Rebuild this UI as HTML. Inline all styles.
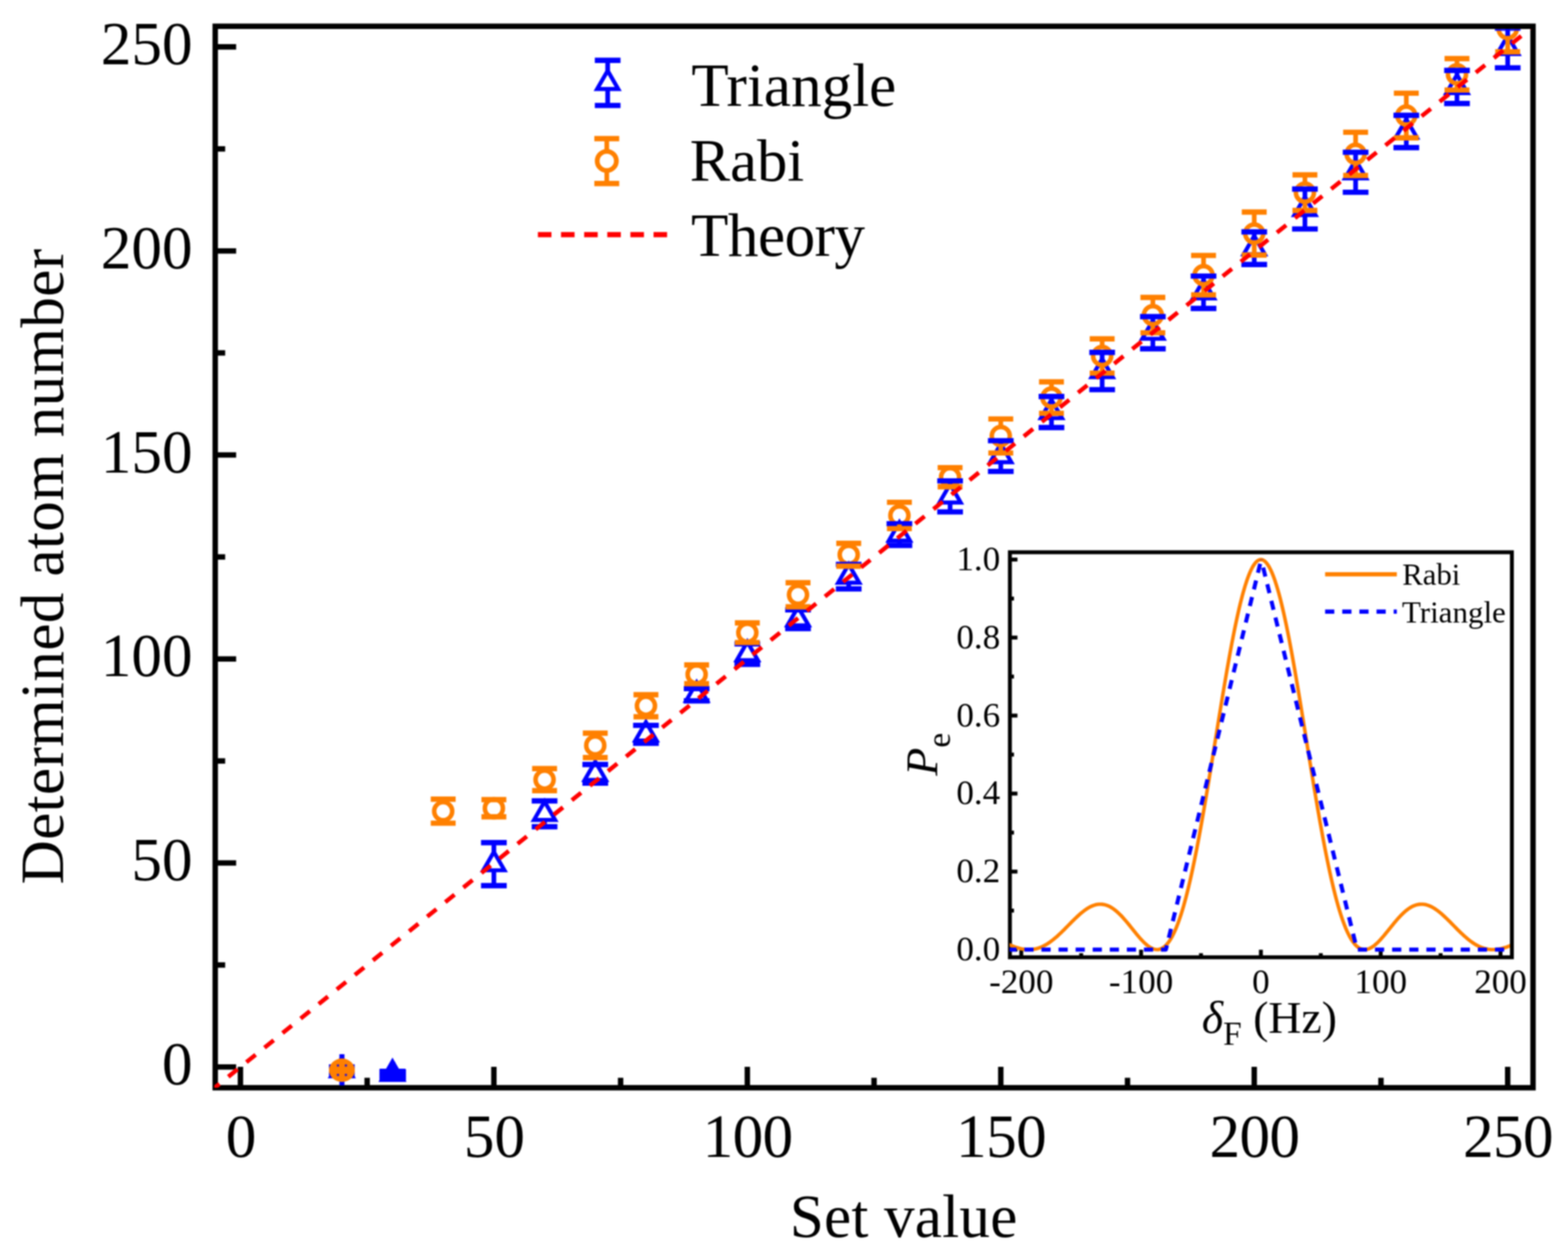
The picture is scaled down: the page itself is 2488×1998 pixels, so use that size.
<!DOCTYPE html>
<html lang="en"><head><meta charset="utf-8"><title>Determined atom number vs set value</title>
<style>html,body{margin:0;padding:0;background:#fff;}body{width:2488px;height:1998px;overflow:hidden;}svg{display:block;filter:blur(1.0px);}text{font-family:'Liberation Serif', 'DejaVu Serif', serif;fill:#000;}</style></head><body>
<svg width="2488" height="1998" viewBox="0 0 2488 1998">
<rect x="0" y="0" width="2488" height="1998" fill="#ffffff"/>
<defs><clipPath id="mainclip"><rect x="340" y="46.2" width="2089.5" height="1680"/></clipPath>
<clipPath id="insclip"><rect x="1601.94" y="879.42" width="794.02" height="639.77"/></clipPath></defs>
<g id="axes" stroke="#000" stroke-width="8.6" fill="none">
<rect x="341.5" y="41.7" width="2091" height="1684.5"/>
<line x1="341.5" y1="1693.3" x2="374.7" y2="1693.3"/>
<line x1="381.5" y1="1726.2" x2="381.5" y2="1693"/>
<line x1="341.5" y1="1531.41" x2="357.3" y2="1531.41"/>
<line x1="582.58" y1="1726.2" x2="582.58" y2="1710.4"/>
<line x1="341.5" y1="1369.52" x2="374.7" y2="1369.52"/>
<line x1="783.66" y1="1726.2" x2="783.66" y2="1693"/>
<line x1="341.5" y1="1207.63" x2="357.3" y2="1207.63"/>
<line x1="984.74" y1="1726.2" x2="984.74" y2="1710.4"/>
<line x1="341.5" y1="1045.74" x2="374.7" y2="1045.74"/>
<line x1="1185.82" y1="1726.2" x2="1185.82" y2="1693"/>
<line x1="341.5" y1="883.85" x2="357.3" y2="883.85"/>
<line x1="1386.9" y1="1726.2" x2="1386.9" y2="1710.4"/>
<line x1="341.5" y1="721.96" x2="374.7" y2="721.96"/>
<line x1="1587.98" y1="1726.2" x2="1587.98" y2="1693"/>
<line x1="341.5" y1="560.07" x2="357.3" y2="560.07"/>
<line x1="1789.06" y1="1726.2" x2="1789.06" y2="1710.4"/>
<line x1="341.5" y1="398.18" x2="374.7" y2="398.18"/>
<line x1="1990.14" y1="1726.2" x2="1990.14" y2="1693"/>
<line x1="341.5" y1="236.29" x2="357.3" y2="236.29"/>
<line x1="2191.22" y1="1726.2" x2="2191.22" y2="1710.4"/>
<line x1="341.5" y1="74.4" x2="374.7" y2="74.4"/>
<line x1="2392.3" y1="1726.2" x2="2392.3" y2="1693"/>
</g>
<g clip-path="url(#mainclip)">
<g id="tri-markers"><polygon points="542.36,1679.01 559.16,1708.11 525.56,1708.11" fill="none" stroke="#0000ff" stroke-width="6.4" stroke-linejoin="miter"/><polygon points="622.8,1684.77 639.6,1713.87 606,1713.87" fill="none" stroke="#0000ff" stroke-width="6.4" stroke-linejoin="miter"/><polygon points="783.66,1352 800.46,1381.1 766.86,1381.1" fill="none" stroke="#0000ff" stroke-width="6.4" stroke-linejoin="miter"/><polygon points="864.09,1272.12 880.89,1301.22 847.29,1301.22" fill="none" stroke="#0000ff" stroke-width="6.4" stroke-linejoin="miter"/><polygon points="944.52,1208.64 961.32,1237.74 927.72,1237.74" fill="none" stroke="#0000ff" stroke-width="6.4" stroke-linejoin="miter"/><polygon points="1024.96,1146 1041.76,1175.1 1008.16,1175.1" fill="none" stroke="#0000ff" stroke-width="6.4" stroke-linejoin="miter"/><polygon points="1105.39,1083.16 1122.19,1112.26 1088.59,1112.26" fill="none" stroke="#0000ff" stroke-width="6.4" stroke-linejoin="miter"/><polygon points="1185.82,1018.7 1202.62,1047.8 1169.02,1047.8" fill="none" stroke="#0000ff" stroke-width="6.4" stroke-linejoin="miter"/><polygon points="1266.25,963.32 1283.05,992.42 1249.45,992.42" fill="none" stroke="#0000ff" stroke-width="6.4" stroke-linejoin="miter"/><polygon points="1346.68,895.62 1363.48,924.72 1329.88,924.72" fill="none" stroke="#0000ff" stroke-width="6.4" stroke-linejoin="miter"/><polygon points="1427.12,828.9 1443.92,858 1410.32,858" fill="none" stroke="#0000ff" stroke-width="6.4" stroke-linejoin="miter"/><polygon points="1507.55,768.33 1524.35,797.43 1490.75,797.43" fill="none" stroke="#0000ff" stroke-width="6.4" stroke-linejoin="miter"/><polygon points="1587.98,704.33 1604.78,733.43 1571.18,733.43" fill="none" stroke="#0000ff" stroke-width="6.4" stroke-linejoin="miter"/><polygon points="1668.41,634.49 1685.21,663.59 1651.61,663.59" fill="none" stroke="#0000ff" stroke-width="6.4" stroke-linejoin="miter"/><polygon points="1748.84,569.45 1765.64,598.55 1732.04,598.55" fill="none" stroke="#0000ff" stroke-width="6.4" stroke-linejoin="miter"/><polygon points="1829.28,508.56 1846.08,537.66 1812.48,537.66" fill="none" stroke="#0000ff" stroke-width="6.4" stroke-linejoin="miter"/><polygon points="1909.71,444.43 1926.51,473.53 1892.91,473.53" fill="none" stroke="#0000ff" stroke-width="6.4" stroke-linejoin="miter"/><polygon points="1990.14,374.47 2006.94,403.57 1973.34,403.57" fill="none" stroke="#0000ff" stroke-width="6.4" stroke-linejoin="miter"/><polygon points="2070.57,312.28 2087.37,341.38 2053.77,341.38" fill="none" stroke="#0000ff" stroke-width="6.4" stroke-linejoin="miter"/><polygon points="2151,253.97 2167.8,283.07 2134.2,283.07" fill="none" stroke="#0000ff" stroke-width="6.4" stroke-linejoin="miter"/><polygon points="2231.44,189.19 2248.24,218.29 2214.64,218.29" fill="none" stroke="#0000ff" stroke-width="6.4" stroke-linejoin="miter"/><polygon points="2311.87,118.58 2328.67,147.68 2295.07,147.68" fill="none" stroke="#0000ff" stroke-width="6.4" stroke-linejoin="miter"/><polygon points="2392.3,56.72 2409.1,85.82 2375.5,85.82" fill="none" stroke="#0000ff" stroke-width="6.4" stroke-linejoin="miter"/></g>
<g id="rabi-markers"><circle cx="542.36" cy="1698.53" r="14.3" fill="none" stroke="#ff8000" stroke-width="7.2"/><circle cx="703.23" cy="1287.31" r="14.3" fill="none" stroke="#ff8000" stroke-width="7.2"/><circle cx="783.66" cy="1282.65" r="14.3" fill="none" stroke="#ff8000" stroke-width="7.2"/><circle cx="864.09" cy="1237.3" r="14.3" fill="none" stroke="#ff8000" stroke-width="7.2"/><circle cx="944.52" cy="1182.89" r="14.3" fill="none" stroke="#ff8000" stroke-width="7.2"/><circle cx="1024.96" cy="1120.05" r="14.3" fill="none" stroke="#ff8000" stroke-width="7.2"/><circle cx="1105.39" cy="1070.17" r="14.3" fill="none" stroke="#ff8000" stroke-width="7.2"/><circle cx="1185.82" cy="1004.09" r="14.3" fill="none" stroke="#ff8000" stroke-width="7.2"/><circle cx="1266.25" cy="943.85" r="14.3" fill="none" stroke="#ff8000" stroke-width="7.2"/><circle cx="1346.68" cy="880.36" r="14.3" fill="none" stroke="#ff8000" stroke-width="7.2"/><circle cx="1427.12" cy="817.98" r="14.3" fill="none" stroke="#ff8000" stroke-width="7.2"/><circle cx="1507.55" cy="757.28" r="14.3" fill="none" stroke="#ff8000" stroke-width="7.2"/><circle cx="1587.98" cy="691.85" r="14.3" fill="none" stroke="#ff8000" stroke-width="7.2"/><circle cx="1668.41" cy="630.96" r="14.3" fill="none" stroke="#ff8000" stroke-width="7.2"/><circle cx="1748.84" cy="564.88" r="14.3" fill="none" stroke="#ff8000" stroke-width="7.2"/><circle cx="1829.28" cy="500.1" r="14.3" fill="none" stroke="#ff8000" stroke-width="7.2"/><circle cx="1909.71" cy="436.68" r="14.3" fill="none" stroke="#ff8000" stroke-width="7.2"/><circle cx="1990.14" cy="370.61" r="14.3" fill="none" stroke="#ff8000" stroke-width="7.2"/><circle cx="2070.57" cy="305.76" r="14.3" fill="none" stroke="#ff8000" stroke-width="7.2"/><circle cx="2151" cy="244.22" r="14.3" fill="none" stroke="#ff8000" stroke-width="7.2"/><circle cx="2231.44" cy="183.33" r="14.3" fill="none" stroke="#ff8000" stroke-width="7.2"/><circle cx="2311.87" cy="117.9" r="14.3" fill="none" stroke="#ff8000" stroke-width="7.2"/><circle cx="2392.3" cy="46" r="14.3" fill="none" stroke="#ff8000" stroke-width="7.2"/></g>
<g id="tri-err"><line x1="521.96" y1="1693.22" x2="562.76" y2="1693.22" stroke="#0000ff" stroke-width="8.4"/><line x1="521.96" y1="1703.59" x2="562.76" y2="1703.59" stroke="#0000ff" stroke-width="8.4"/><line x1="602.4" y1="1700.28" x2="643.2" y2="1700.28" stroke="#0000ff" stroke-width="8.4"/><line x1="602.4" y1="1708.06" x2="643.2" y2="1708.06" stroke="#0000ff" stroke-width="8.4"/><line x1="763.26" y1="1337.32" x2="804.06" y2="1337.32" stroke="#0000ff" stroke-width="8.4"/><line x1="763.26" y1="1405.47" x2="804.06" y2="1405.47" stroke="#0000ff" stroke-width="8.4"/><line x1="783.66" y1="1337.32" x2="783.66" y2="1352" stroke="#0000ff" stroke-width="7.4"/><line x1="783.66" y1="1381.1" x2="783.66" y2="1405.47" stroke="#0000ff" stroke-width="7.4"/><line x1="843.69" y1="1271.05" x2="884.49" y2="1271.05" stroke="#0000ff" stroke-width="8.4"/><line x1="843.69" y1="1311.99" x2="884.49" y2="1311.99" stroke="#0000ff" stroke-width="8.4"/><line x1="864.09" y1="1271.05" x2="864.09" y2="1272.12" stroke="#0000ff" stroke-width="7.4"/><line x1="864.09" y1="1301.22" x2="864.09" y2="1311.99" stroke="#0000ff" stroke-width="7.4"/><line x1="924.12" y1="1213.2" x2="964.92" y2="1213.2" stroke="#0000ff" stroke-width="8.4"/><line x1="924.12" y1="1242.87" x2="964.92" y2="1242.87" stroke="#0000ff" stroke-width="8.4"/><line x1="944.52" y1="1237.74" x2="944.52" y2="1242.87" stroke="#0000ff" stroke-width="7.4"/><line x1="1004.56" y1="1151.14" x2="1045.36" y2="1151.14" stroke="#0000ff" stroke-width="8.4"/><line x1="1004.56" y1="1179.65" x2="1045.36" y2="1179.65" stroke="#0000ff" stroke-width="8.4"/><line x1="1024.96" y1="1175.1" x2="1024.96" y2="1179.65" stroke="#0000ff" stroke-width="7.4"/><line x1="1084.99" y1="1092.84" x2="1125.79" y2="1092.84" stroke="#0000ff" stroke-width="8.4"/><line x1="1084.99" y1="1112.28" x2="1125.79" y2="1112.28" stroke="#0000ff" stroke-width="8.4"/><line x1="1105.39" y1="1112.26" x2="1105.39" y2="1112.28" stroke="#0000ff" stroke-width="7.4"/><line x1="1165.42" y1="1021.91" x2="1206.22" y2="1021.91" stroke="#0000ff" stroke-width="8.4"/><line x1="1165.42" y1="1054.3" x2="1206.22" y2="1054.3" stroke="#0000ff" stroke-width="8.4"/><line x1="1185.82" y1="1047.8" x2="1185.82" y2="1054.3" stroke="#0000ff" stroke-width="7.4"/><line x1="1245.85" y1="967.82" x2="1286.65" y2="967.82" stroke="#0000ff" stroke-width="8.4"/><line x1="1245.85" y1="997.62" x2="1286.65" y2="997.62" stroke="#0000ff" stroke-width="8.4"/><line x1="1266.25" y1="992.42" x2="1266.25" y2="997.62" stroke="#0000ff" stroke-width="7.4"/><line x1="1326.28" y1="895.59" x2="1367.08" y2="895.59" stroke="#0000ff" stroke-width="8.4"/><line x1="1326.28" y1="934.45" x2="1367.08" y2="934.45" stroke="#0000ff" stroke-width="8.4"/><line x1="1346.68" y1="895.59" x2="1346.68" y2="895.62" stroke="#0000ff" stroke-width="7.4"/><line x1="1346.68" y1="924.72" x2="1346.68" y2="934.45" stroke="#0000ff" stroke-width="7.4"/><line x1="1406.72" y1="831.13" x2="1447.52" y2="831.13" stroke="#0000ff" stroke-width="8.4"/><line x1="1406.72" y1="865.46" x2="1447.52" y2="865.46" stroke="#0000ff" stroke-width="8.4"/><line x1="1427.12" y1="858" x2="1427.12" y2="865.46" stroke="#0000ff" stroke-width="7.4"/><line x1="1487.15" y1="763.11" x2="1527.95" y2="763.11" stroke="#0000ff" stroke-width="8.4"/><line x1="1487.15" y1="812.34" x2="1527.95" y2="812.34" stroke="#0000ff" stroke-width="8.4"/><line x1="1507.55" y1="763.11" x2="1507.55" y2="768.33" stroke="#0000ff" stroke-width="7.4"/><line x1="1507.55" y1="797.43" x2="1507.55" y2="812.34" stroke="#0000ff" stroke-width="7.4"/><line x1="1567.58" y1="699.37" x2="1608.38" y2="699.37" stroke="#0000ff" stroke-width="8.4"/><line x1="1567.58" y1="748.08" x2="1608.38" y2="748.08" stroke="#0000ff" stroke-width="8.4"/><line x1="1587.98" y1="699.37" x2="1587.98" y2="704.33" stroke="#0000ff" stroke-width="7.4"/><line x1="1587.98" y1="733.43" x2="1587.98" y2="748.08" stroke="#0000ff" stroke-width="7.4"/><line x1="1648.01" y1="629.21" x2="1688.81" y2="629.21" stroke="#0000ff" stroke-width="8.4"/><line x1="1648.01" y1="678.57" x2="1688.81" y2="678.57" stroke="#0000ff" stroke-width="8.4"/><line x1="1668.41" y1="629.21" x2="1668.41" y2="634.49" stroke="#0000ff" stroke-width="7.4"/><line x1="1668.41" y1="663.59" x2="1668.41" y2="678.57" stroke="#0000ff" stroke-width="7.4"/><line x1="1728.44" y1="559.31" x2="1769.24" y2="559.31" stroke="#0000ff" stroke-width="8.4"/><line x1="1728.44" y1="618.39" x2="1769.24" y2="618.39" stroke="#0000ff" stroke-width="8.4"/><line x1="1748.84" y1="559.31" x2="1748.84" y2="569.45" stroke="#0000ff" stroke-width="7.4"/><line x1="1748.84" y1="598.55" x2="1748.84" y2="618.39" stroke="#0000ff" stroke-width="7.4"/><line x1="1808.88" y1="502.44" x2="1849.68" y2="502.44" stroke="#0000ff" stroke-width="8.4"/><line x1="1808.88" y1="553.48" x2="1849.68" y2="553.48" stroke="#0000ff" stroke-width="8.4"/><line x1="1829.28" y1="502.44" x2="1829.28" y2="508.56" stroke="#0000ff" stroke-width="7.4"/><line x1="1829.28" y1="537.66" x2="1829.28" y2="553.48" stroke="#0000ff" stroke-width="7.4"/><line x1="1889.31" y1="438.11" x2="1930.11" y2="438.11" stroke="#0000ff" stroke-width="8.4"/><line x1="1889.31" y1="489.55" x2="1930.11" y2="489.55" stroke="#0000ff" stroke-width="8.4"/><line x1="1909.71" y1="438.11" x2="1909.71" y2="444.43" stroke="#0000ff" stroke-width="7.4"/><line x1="1909.71" y1="473.53" x2="1909.71" y2="489.55" stroke="#0000ff" stroke-width="7.4"/><line x1="1969.74" y1="367.95" x2="2010.54" y2="367.95" stroke="#0000ff" stroke-width="8.4"/><line x1="1969.74" y1="419.78" x2="2010.54" y2="419.78" stroke="#0000ff" stroke-width="8.4"/><line x1="1990.14" y1="367.95" x2="1990.14" y2="374.47" stroke="#0000ff" stroke-width="7.4"/><line x1="1990.14" y1="403.57" x2="1990.14" y2="419.78" stroke="#0000ff" stroke-width="7.4"/><line x1="2050.17" y1="299.93" x2="2090.97" y2="299.93" stroke="#0000ff" stroke-width="8.4"/><line x1="2050.17" y1="363.42" x2="2090.97" y2="363.42" stroke="#0000ff" stroke-width="8.4"/><line x1="2070.57" y1="299.93" x2="2070.57" y2="312.28" stroke="#0000ff" stroke-width="7.4"/><line x1="2070.57" y1="341.38" x2="2070.57" y2="363.42" stroke="#0000ff" stroke-width="7.4"/><line x1="2130.6" y1="241.63" x2="2171.4" y2="241.63" stroke="#0000ff" stroke-width="8.4"/><line x1="2130.6" y1="305.12" x2="2171.4" y2="305.12" stroke="#0000ff" stroke-width="8.4"/><line x1="2151" y1="241.63" x2="2151" y2="253.97" stroke="#0000ff" stroke-width="7.4"/><line x1="2151" y1="283.07" x2="2151" y2="305.12" stroke="#0000ff" stroke-width="7.4"/><line x1="2211.04" y1="183.01" x2="2251.84" y2="183.01" stroke="#0000ff" stroke-width="8.4"/><line x1="2211.04" y1="234.18" x2="2251.84" y2="234.18" stroke="#0000ff" stroke-width="8.4"/><line x1="2231.44" y1="183.01" x2="2231.44" y2="189.19" stroke="#0000ff" stroke-width="7.4"/><line x1="2231.44" y1="218.29" x2="2231.44" y2="234.18" stroke="#0000ff" stroke-width="7.4"/><line x1="2291.47" y1="111.75" x2="2332.27" y2="111.75" stroke="#0000ff" stroke-width="8.4"/><line x1="2291.47" y1="164.22" x2="2332.27" y2="164.22" stroke="#0000ff" stroke-width="8.4"/><line x1="2311.87" y1="111.75" x2="2311.87" y2="118.58" stroke="#0000ff" stroke-width="7.4"/><line x1="2311.87" y1="147.68" x2="2311.87" y2="164.22" stroke="#0000ff" stroke-width="7.4"/><line x1="2371.9" y1="44.64" x2="2412.7" y2="44.64" stroke="#0000ff" stroke-width="8.4"/><line x1="2371.9" y1="107.6" x2="2412.7" y2="107.6" stroke="#0000ff" stroke-width="8.4"/><line x1="2392.3" y1="44.64" x2="2392.3" y2="56.72" stroke="#0000ff" stroke-width="7.4"/><line x1="2392.3" y1="85.82" x2="2392.3" y2="107.6" stroke="#0000ff" stroke-width="7.4"/></g>
<g id="rabi-err"><line x1="522.61" y1="1698.53" x2="562.11" y2="1698.53" stroke="#ff8000" stroke-width="8.4"/><line x1="522.61" y1="1698.53" x2="562.11" y2="1698.53" stroke="#ff8000" stroke-width="8.4"/><line x1="683.48" y1="1268.2" x2="722.98" y2="1268.2" stroke="#ff8000" stroke-width="8.4"/><line x1="683.48" y1="1306.42" x2="722.98" y2="1306.42" stroke="#ff8000" stroke-width="8.4"/><line x1="703.23" y1="1268.2" x2="703.23" y2="1273.01" stroke="#ff8000" stroke-width="7.4"/><line x1="703.23" y1="1301.61" x2="703.23" y2="1306.42" stroke="#ff8000" stroke-width="7.4"/><line x1="763.91" y1="1269.04" x2="803.41" y2="1269.04" stroke="#ff8000" stroke-width="8.4"/><line x1="763.91" y1="1296.25" x2="803.41" y2="1296.25" stroke="#ff8000" stroke-width="8.4"/><line x1="844.34" y1="1219.81" x2="883.84" y2="1219.81" stroke="#ff8000" stroke-width="8.4"/><line x1="844.34" y1="1254.79" x2="883.84" y2="1254.79" stroke="#ff8000" stroke-width="8.4"/><line x1="864.09" y1="1219.81" x2="864.09" y2="1223" stroke="#ff8000" stroke-width="7.4"/><line x1="864.09" y1="1251.6" x2="864.09" y2="1254.79" stroke="#ff8000" stroke-width="7.4"/><line x1="924.77" y1="1163.45" x2="964.27" y2="1163.45" stroke="#ff8000" stroke-width="8.4"/><line x1="924.77" y1="1202.32" x2="964.27" y2="1202.32" stroke="#ff8000" stroke-width="8.4"/><line x1="944.52" y1="1163.45" x2="944.52" y2="1168.59" stroke="#ff8000" stroke-width="7.4"/><line x1="944.52" y1="1197.19" x2="944.52" y2="1202.32" stroke="#ff8000" stroke-width="7.4"/><line x1="1005.21" y1="1102.56" x2="1044.71" y2="1102.56" stroke="#ff8000" stroke-width="8.4"/><line x1="1005.21" y1="1137.54" x2="1044.71" y2="1137.54" stroke="#ff8000" stroke-width="8.4"/><line x1="1024.96" y1="1102.56" x2="1024.96" y2="1105.75" stroke="#ff8000" stroke-width="7.4"/><line x1="1024.96" y1="1134.35" x2="1024.96" y2="1137.54" stroke="#ff8000" stroke-width="7.4"/><line x1="1085.64" y1="1055.27" x2="1125.14" y2="1055.27" stroke="#ff8000" stroke-width="8.4"/><line x1="1085.64" y1="1085.07" x2="1125.14" y2="1085.07" stroke="#ff8000" stroke-width="8.4"/><line x1="1105.39" y1="1055.27" x2="1105.39" y2="1055.87" stroke="#ff8000" stroke-width="7.4"/><line x1="1105.39" y1="1084.47" x2="1105.39" y2="1085.07" stroke="#ff8000" stroke-width="7.4"/><line x1="1166.07" y1="988.55" x2="1205.57" y2="988.55" stroke="#ff8000" stroke-width="8.4"/><line x1="1166.07" y1="1019.64" x2="1205.57" y2="1019.64" stroke="#ff8000" stroke-width="8.4"/><line x1="1185.82" y1="988.55" x2="1185.82" y2="989.79" stroke="#ff8000" stroke-width="7.4"/><line x1="1185.82" y1="1018.39" x2="1185.82" y2="1019.64" stroke="#ff8000" stroke-width="7.4"/><line x1="1246.5" y1="924.74" x2="1286" y2="924.74" stroke="#ff8000" stroke-width="8.4"/><line x1="1246.5" y1="962.96" x2="1286" y2="962.96" stroke="#ff8000" stroke-width="8.4"/><line x1="1266.25" y1="924.74" x2="1266.25" y2="929.55" stroke="#ff8000" stroke-width="7.4"/><line x1="1266.25" y1="958.15" x2="1266.25" y2="962.96" stroke="#ff8000" stroke-width="7.4"/><line x1="1326.93" y1="862.22" x2="1366.43" y2="862.22" stroke="#ff8000" stroke-width="8.4"/><line x1="1326.93" y1="898.5" x2="1366.43" y2="898.5" stroke="#ff8000" stroke-width="8.4"/><line x1="1346.68" y1="862.22" x2="1346.68" y2="866.06" stroke="#ff8000" stroke-width="7.4"/><line x1="1346.68" y1="894.66" x2="1346.68" y2="898.5" stroke="#ff8000" stroke-width="7.4"/><line x1="1407.37" y1="797.12" x2="1446.87" y2="797.12" stroke="#ff8000" stroke-width="8.4"/><line x1="1407.37" y1="838.84" x2="1446.87" y2="838.84" stroke="#ff8000" stroke-width="8.4"/><line x1="1427.12" y1="797.12" x2="1427.12" y2="803.68" stroke="#ff8000" stroke-width="7.4"/><line x1="1427.12" y1="832.28" x2="1427.12" y2="838.84" stroke="#ff8000" stroke-width="7.4"/><line x1="1487.8" y1="742.12" x2="1527.3" y2="742.12" stroke="#ff8000" stroke-width="8.4"/><line x1="1487.8" y1="772.44" x2="1527.3" y2="772.44" stroke="#ff8000" stroke-width="8.4"/><line x1="1507.55" y1="742.12" x2="1507.55" y2="742.98" stroke="#ff8000" stroke-width="7.4"/><line x1="1507.55" y1="771.58" x2="1507.55" y2="772.44" stroke="#ff8000" stroke-width="7.4"/><line x1="1568.23" y1="664.84" x2="1607.73" y2="664.84" stroke="#ff8000" stroke-width="8.4"/><line x1="1568.23" y1="718.87" x2="1607.73" y2="718.87" stroke="#ff8000" stroke-width="8.4"/><line x1="1587.98" y1="664.84" x2="1587.98" y2="677.55" stroke="#ff8000" stroke-width="7.4"/><line x1="1587.98" y1="706.15" x2="1587.98" y2="718.87" stroke="#ff8000" stroke-width="7.4"/><line x1="1648.66" y1="606.02" x2="1688.16" y2="606.02" stroke="#ff8000" stroke-width="8.4"/><line x1="1648.66" y1="655.9" x2="1688.16" y2="655.9" stroke="#ff8000" stroke-width="8.4"/><line x1="1668.41" y1="606.02" x2="1668.41" y2="616.66" stroke="#ff8000" stroke-width="7.4"/><line x1="1668.41" y1="645.26" x2="1668.41" y2="655.9" stroke="#ff8000" stroke-width="7.4"/><line x1="1729.09" y1="537.68" x2="1768.59" y2="537.68" stroke="#ff8000" stroke-width="8.4"/><line x1="1729.09" y1="592.09" x2="1768.59" y2="592.09" stroke="#ff8000" stroke-width="8.4"/><line x1="1748.84" y1="537.68" x2="1748.84" y2="550.58" stroke="#ff8000" stroke-width="7.4"/><line x1="1748.84" y1="579.18" x2="1748.84" y2="592.09" stroke="#ff8000" stroke-width="7.4"/><line x1="1809.53" y1="472.05" x2="1849.03" y2="472.05" stroke="#ff8000" stroke-width="8.4"/><line x1="1809.53" y1="528.15" x2="1849.03" y2="528.15" stroke="#ff8000" stroke-width="8.4"/><line x1="1829.28" y1="472.05" x2="1829.28" y2="485.8" stroke="#ff8000" stroke-width="7.4"/><line x1="1829.28" y1="514.4" x2="1829.28" y2="528.15" stroke="#ff8000" stroke-width="7.4"/><line x1="1889.96" y1="405.4" x2="1929.46" y2="405.4" stroke="#ff8000" stroke-width="8.4"/><line x1="1889.96" y1="467.97" x2="1929.46" y2="467.97" stroke="#ff8000" stroke-width="8.4"/><line x1="1909.71" y1="405.4" x2="1909.71" y2="422.38" stroke="#ff8000" stroke-width="7.4"/><line x1="1909.71" y1="450.98" x2="1909.71" y2="467.97" stroke="#ff8000" stroke-width="7.4"/><line x1="1970.39" y1="336.54" x2="2009.89" y2="336.54" stroke="#ff8000" stroke-width="8.4"/><line x1="1970.39" y1="404.68" x2="2009.89" y2="404.68" stroke="#ff8000" stroke-width="8.4"/><line x1="1990.14" y1="336.54" x2="1990.14" y2="356.31" stroke="#ff8000" stroke-width="7.4"/><line x1="1990.14" y1="384.91" x2="1990.14" y2="404.68" stroke="#ff8000" stroke-width="7.4"/><line x1="2050.82" y1="277.46" x2="2090.32" y2="277.46" stroke="#ff8000" stroke-width="8.4"/><line x1="2050.82" y1="334.07" x2="2090.32" y2="334.07" stroke="#ff8000" stroke-width="8.4"/><line x1="2070.57" y1="277.46" x2="2070.57" y2="291.46" stroke="#ff8000" stroke-width="7.4"/><line x1="2070.57" y1="320.06" x2="2070.57" y2="334.07" stroke="#ff8000" stroke-width="7.4"/><line x1="2131.25" y1="209.89" x2="2170.75" y2="209.89" stroke="#ff8000" stroke-width="8.4"/><line x1="2131.25" y1="278.56" x2="2170.75" y2="278.56" stroke="#ff8000" stroke-width="8.4"/><line x1="2151" y1="209.89" x2="2151" y2="229.92" stroke="#ff8000" stroke-width="7.4"/><line x1="2151" y1="258.52" x2="2151" y2="278.56" stroke="#ff8000" stroke-width="7.4"/><line x1="2211.69" y1="147.9" x2="2251.19" y2="147.9" stroke="#ff8000" stroke-width="8.4"/><line x1="2211.69" y1="218.77" x2="2251.19" y2="218.77" stroke="#ff8000" stroke-width="8.4"/><line x1="2231.44" y1="147.9" x2="2231.44" y2="169.03" stroke="#ff8000" stroke-width="7.4"/><line x1="2231.44" y1="197.63" x2="2231.44" y2="218.77" stroke="#ff8000" stroke-width="7.4"/><line x1="2292.12" y1="92.96" x2="2331.62" y2="92.96" stroke="#ff8000" stroke-width="8.4"/><line x1="2292.12" y1="142.84" x2="2331.62" y2="142.84" stroke="#ff8000" stroke-width="8.4"/><line x1="2311.87" y1="92.96" x2="2311.87" y2="103.6" stroke="#ff8000" stroke-width="7.4"/><line x1="2311.87" y1="132.2" x2="2311.87" y2="142.84" stroke="#ff8000" stroke-width="7.4"/><line x1="2372.55" y1="9.72" x2="2412.05" y2="9.72" stroke="#ff8000" stroke-width="8.4"/><line x1="2372.55" y1="82.27" x2="2412.05" y2="82.27" stroke="#ff8000" stroke-width="8.4"/><line x1="2392.3" y1="9.72" x2="2392.3" y2="31.7" stroke="#ff8000" stroke-width="7.4"/><line x1="2392.3" y1="60.3" x2="2392.3" y2="82.27" stroke="#ff8000" stroke-width="7.4"/></g>
<g id="low-points"><line x1="623.2" y1="1685" x2="623.2" y2="1713" stroke="#0000ff" stroke-width="8"/><rect x="602.2" y="1696.8" width="42" height="18" fill="#0000ff"/><line x1="542.56" y1="1673" x2="542.56" y2="1722.6" stroke="#0000ff" stroke-width="8"/><ellipse cx="542.56" cy="1698.4" rx="20.4" ry="18.6" fill="#ff8000"/><rect x="534.56" y="1689.2" width="3.4" height="3.4" fill="#0000ff" opacity="0.85"/><rect x="534.56" y="1704.2" width="3.4" height="3.4" fill="#0000ff" opacity="0.85"/><rect x="547.16" y="1689.2" width="3.4" height="3.4" fill="#0000ff" opacity="0.85"/><rect x="547.16" y="1704.2" width="3.4" height="3.4" fill="#0000ff" opacity="0.85"/></g>
<line x1="317.15" y1="1745.1" x2="2440.56" y2="35.55" stroke="#ff0000" stroke-width="6.8" stroke-dasharray="18.8 18.03" stroke-dashoffset="15.71"/>
</g>
<g id="ticklabels" font-size="97">
<text x="305.5" y="1720.9" text-anchor="end">0</text>
<text x="382.4" y="1835.6" text-anchor="middle">0</text>
<text x="305.5" y="1397.12" text-anchor="end">50</text>
<text x="784.56" y="1835.6" text-anchor="middle">50</text>
<text x="305.5" y="1073.34" text-anchor="end">100</text>
<text x="1186.72" y="1835.6" text-anchor="middle" textLength="143.6" lengthAdjust="spacing">100</text>
<text x="305.5" y="749.56" text-anchor="end">150</text>
<text x="1588.88" y="1835.6" text-anchor="middle" textLength="143.6" lengthAdjust="spacing">150</text>
<text x="305.5" y="425.78" text-anchor="end">200</text>
<text x="1991.04" y="1835.6" text-anchor="middle" textLength="143.6" lengthAdjust="spacing">200</text>
<text x="305.5" y="102" text-anchor="end">250</text>
<text x="2393.2" y="1835.6" text-anchor="middle" textLength="143.6" lengthAdjust="spacing">250</text>
</g>
<text x="1253.2" y="1963.2" font-size="97" textLength="361" lengthAdjust="spacing">Set value</text>
<text transform="translate(99.6,1403.4) rotate(-90)" font-size="97" textLength="1008.4" lengthAdjust="spacing">Determined atom number</text>
<g id="legend">
<line x1="943.8" y1="95.8" x2="984.6" y2="95.8" stroke="#0000ff" stroke-width="8.4"/><line x1="943.8" y1="167.4" x2="984.6" y2="167.4" stroke="#0000ff" stroke-width="8.4"/><line x1="964.2" y1="95.8" x2="964.2" y2="112.2" stroke="#0000ff" stroke-width="7.4"/><line x1="964.2" y1="141.3" x2="964.2" y2="167.4" stroke="#0000ff" stroke-width="7.4"/>
<polygon points="964.2,112.2 981,141.3 947.4,141.3" fill="none" stroke="#0000ff" stroke-width="6.4" stroke-linejoin="miter"/>
<line x1="943.05" y1="220" x2="982.55" y2="220" stroke="#ff8000" stroke-width="8.4"/><line x1="943.05" y1="291.2" x2="982.55" y2="291.2" stroke="#ff8000" stroke-width="8.4"/><line x1="962.8" y1="220" x2="962.8" y2="241.3" stroke="#ff8000" stroke-width="7.4"/><line x1="962.8" y1="269.9" x2="962.8" y2="291.2" stroke="#ff8000" stroke-width="7.4"/>
<circle cx="962.8" cy="255.4" r="15.2" fill="none" stroke="#ff8000" stroke-width="7.6"/>
<line x1="853.5" y1="372.4" x2="1060" y2="372.4" stroke="#ff0000" stroke-width="8.4" stroke-dasharray="21.5 15.2"/>
<text x="1097" y="168.2" font-size="97">Triangle</text>
<text x="1094.5" y="286.6" font-size="96">Rabi</text>
<text x="1096.6" y="405.7" font-size="97" textLength="276" lengthAdjust="spacing">Theory</text>
</g>
<g id="inset">
<rect x="1602.44" y="876.42" width="796.52" height="642.77" fill="#fff"/>
<g stroke="#000" stroke-width="6.2" fill="none">
<rect x="1602.44" y="876.42" width="796.52" height="642.77"/>
<line x1="1602.44" y1="1507" x2="1614.44" y2="1507"/>
<line x1="1602.44" y1="1445.1" x2="1608.94" y2="1445.1"/>
<line x1="1602.44" y1="1383.2" x2="1614.44" y2="1383.2"/>
<line x1="1602.44" y1="1321.3" x2="1608.94" y2="1321.3"/>
<line x1="1602.44" y1="1259.4" x2="1614.44" y2="1259.4"/>
<line x1="1602.44" y1="1197.5" x2="1608.94" y2="1197.5"/>
<line x1="1602.44" y1="1135.6" x2="1614.44" y2="1135.6"/>
<line x1="1602.44" y1="1073.7" x2="1608.94" y2="1073.7"/>
<line x1="1602.44" y1="1011.8" x2="1614.44" y2="1011.8"/>
<line x1="1602.44" y1="949.9" x2="1608.94" y2="949.9"/>
<line x1="1602.44" y1="888" x2="1614.44" y2="888"/>
<line x1="1620.5" y1="1519.19" x2="1620.5" y2="1507.19"/>
<line x1="1715.55" y1="1519.19" x2="1715.55" y2="1512.69"/>
<line x1="1810.6" y1="1519.19" x2="1810.6" y2="1507.19"/>
<line x1="1905.65" y1="1519.19" x2="1905.65" y2="1512.69"/>
<line x1="2000.7" y1="1519.19" x2="2000.7" y2="1507.19"/>
<line x1="2095.75" y1="1519.19" x2="2095.75" y2="1512.69"/>
<line x1="2190.8" y1="1519.19" x2="2190.8" y2="1507.19"/>
<line x1="2285.85" y1="1519.19" x2="2285.85" y2="1512.69"/>
<line x1="2380.9" y1="1519.19" x2="2380.9" y2="1507.19"/>
</g>
<g clip-path="url(#insclip)">
<polyline points="1597.69,1497.8 1599.61,1498.62 1601.53,1499.42 1603.45,1500.2 1605.36,1500.96 1607.28,1501.69 1609.2,1502.39 1611.12,1503.05 1613.04,1503.67 1614.96,1504.25 1616.88,1504.79 1618.8,1505.27 1620.72,1505.7 1622.64,1506.08 1624.56,1506.39 1626.47,1506.64 1628.39,1506.83 1630.31,1506.95 1632.23,1507 1634.15,1506.98 1636.07,1506.88 1637.99,1506.7 1639.91,1506.45 1641.83,1506.12 1643.75,1505.71 1645.67,1505.21 1647.58,1504.64 1649.5,1503.98 1651.42,1503.25 1653.34,1502.43 1655.26,1501.53 1657.18,1500.55 1659.1,1499.49 1661.02,1498.36 1662.94,1497.15 1664.86,1495.86 1666.78,1494.51 1668.69,1493.09 1670.61,1491.6 1672.53,1490.05 1674.45,1488.44 1676.37,1486.78 1678.29,1485.07 1680.21,1483.31 1682.13,1481.51 1684.05,1479.67 1685.97,1477.8 1687.89,1475.91 1689.81,1473.99 1691.72,1472.05 1693.64,1470.11 1695.56,1468.16 1697.48,1466.21 1699.4,1464.27 1701.32,1462.34 1703.24,1460.43 1705.16,1458.54 1707.08,1456.69 1709,1454.87 1710.92,1453.1 1712.83,1451.38 1714.75,1449.71 1716.67,1448.1 1718.59,1446.57 1720.51,1445.1 1722.43,1443.72 1724.35,1442.41 1726.27,1441.2 1728.19,1440.08 1730.11,1439.06 1732.03,1438.15 1733.94,1437.34 1735.86,1436.64 1737.78,1436.06 1739.7,1435.59 1741.62,1435.25 1743.54,1435.03 1745.46,1434.93 1747.38,1434.96 1749.3,1435.12 1751.22,1435.41 1753.14,1435.82 1755.05,1436.37 1756.97,1437.04 1758.89,1437.85 1760.81,1438.78 1762.73,1439.83 1764.65,1441 1766.57,1442.29 1768.49,1443.7 1770.41,1445.22 1772.33,1446.85 1774.25,1448.57 1776.16,1450.4 1778.08,1452.31 1780,1454.31 1781.92,1456.38 1783.84,1458.53 1785.76,1460.73 1787.68,1462.99 1789.6,1465.3 1791.52,1467.64 1793.44,1470.01 1795.36,1472.4 1797.27,1474.79 1799.19,1477.18 1801.11,1479.56 1803.03,1481.91 1804.95,1484.23 1806.87,1486.5 1808.79,1488.72 1810.71,1490.86 1812.63,1492.92 1814.55,1494.89 1816.47,1496.76 1818.39,1498.5 1820.3,1500.12 1822.22,1501.6 1824.14,1502.92 1826.06,1504.08 1827.98,1505.06 1829.9,1505.85 1831.82,1506.45 1833.74,1506.83 1835.66,1506.99 1837.58,1506.93 1839.5,1506.62 1841.41,1506.06 1843.33,1505.24 1845.25,1504.15 1847.17,1502.78 1849.09,1501.13 1851.01,1499.18 1852.93,1496.93 1854.85,1494.38 1856.77,1491.52 1858.69,1488.33 1860.61,1484.83 1862.52,1481 1864.44,1476.84 1866.36,1472.35 1868.28,1467.53 1870.2,1462.38 1872.12,1456.89 1874.04,1451.06 1875.96,1444.91 1877.88,1438.43 1879.8,1431.61 1881.72,1424.48 1883.63,1417.03 1885.55,1409.26 1887.47,1401.18 1889.39,1392.81 1891.31,1384.14 1893.23,1375.19 1895.15,1365.96 1897.07,1356.46 1898.99,1346.71 1900.91,1336.72 1902.83,1326.49 1904.74,1316.05 1906.66,1305.39 1908.58,1294.55 1910.5,1283.53 1912.42,1272.35 1914.34,1261.01 1916.26,1249.55 1918.18,1237.98 1920.1,1226.31 1922.02,1214.55 1923.94,1202.74 1925.85,1190.89 1927.77,1179.01 1929.69,1167.12 1931.61,1155.25 1933.53,1143.4 1935.45,1131.62 1937.37,1119.9 1939.29,1108.27 1941.21,1096.75 1943.13,1085.37 1945.05,1074.13 1946.97,1063.06 1948.88,1052.18 1950.8,1041.51 1952.72,1031.06 1954.64,1020.85 1956.56,1010.91 1958.48,1001.25 1960.4,991.88 1962.32,982.83 1964.24,974.1 1966.16,965.73 1968.08,957.71 1969.99,950.07 1971.91,942.82 1973.83,935.97 1975.75,929.53 1977.67,923.53 1979.59,917.96 1981.51,912.84 1983.43,908.18 1985.35,903.99 1987.27,900.27 1989.19,897.03 1991.1,894.28 1993.02,892.03 1994.94,890.27 1996.86,889.01 1998.78,888.25 2000.7,888 2002.62,888.25 2004.54,889.01 2006.46,890.27 2008.38,892.03 2010.3,894.28 2012.21,897.03 2014.13,900.27 2016.05,903.99 2017.97,908.18 2019.89,912.84 2021.81,917.96 2023.73,923.53 2025.65,929.53 2027.57,935.97 2029.49,942.82 2031.41,950.07 2033.32,957.71 2035.24,965.73 2037.16,974.1 2039.08,982.83 2041,991.88 2042.92,1001.25 2044.84,1010.91 2046.76,1020.85 2048.68,1031.06 2050.6,1041.51 2052.52,1052.18 2054.43,1063.06 2056.35,1074.13 2058.27,1085.37 2060.19,1096.75 2062.11,1108.27 2064.03,1119.9 2065.95,1131.62 2067.87,1143.4 2069.79,1155.25 2071.71,1167.12 2073.63,1179.01 2075.55,1190.89 2077.46,1202.74 2079.38,1214.55 2081.3,1226.31 2083.22,1237.98 2085.14,1249.55 2087.06,1261.01 2088.98,1272.35 2090.9,1283.53 2092.82,1294.55 2094.74,1305.39 2096.66,1316.05 2098.57,1326.49 2100.49,1336.72 2102.41,1346.71 2104.33,1356.46 2106.25,1365.96 2108.17,1375.19 2110.09,1384.14 2112.01,1392.81 2113.93,1401.18 2115.85,1409.26 2117.77,1417.03 2119.68,1424.48 2121.6,1431.61 2123.52,1438.43 2125.44,1444.91 2127.36,1451.06 2129.28,1456.89 2131.2,1462.38 2133.12,1467.53 2135.04,1472.35 2136.96,1476.84 2138.88,1481 2140.79,1484.83 2142.71,1488.33 2144.63,1491.52 2146.55,1494.38 2148.47,1496.93 2150.39,1499.18 2152.31,1501.13 2154.23,1502.78 2156.15,1504.15 2158.07,1505.24 2159.99,1506.06 2161.9,1506.62 2163.82,1506.93 2165.74,1506.99 2167.66,1506.83 2169.58,1506.45 2171.5,1505.85 2173.42,1505.06 2175.34,1504.08 2177.26,1502.92 2179.18,1501.6 2181.1,1500.12 2183.01,1498.5 2184.93,1496.76 2186.85,1494.89 2188.77,1492.92 2190.69,1490.86 2192.61,1488.72 2194.53,1486.5 2196.45,1484.23 2198.37,1481.91 2200.29,1479.56 2202.21,1477.18 2204.13,1474.79 2206.04,1472.4 2207.96,1470.01 2209.88,1467.64 2211.8,1465.3 2213.72,1462.99 2215.64,1460.73 2217.56,1458.53 2219.48,1456.38 2221.4,1454.31 2223.32,1452.31 2225.24,1450.4 2227.15,1448.57 2229.07,1446.85 2230.99,1445.22 2232.91,1443.7 2234.83,1442.29 2236.75,1441 2238.67,1439.83 2240.59,1438.78 2242.51,1437.85 2244.43,1437.04 2246.35,1436.37 2248.26,1435.82 2250.18,1435.41 2252.1,1435.12 2254.02,1434.96 2255.94,1434.93 2257.86,1435.03 2259.78,1435.25 2261.7,1435.59 2263.62,1436.06 2265.54,1436.64 2267.46,1437.34 2269.37,1438.15 2271.29,1439.06 2273.21,1440.08 2275.13,1441.2 2277.05,1442.41 2278.97,1443.72 2280.89,1445.1 2282.81,1446.57 2284.73,1448.1 2286.65,1449.71 2288.57,1451.38 2290.48,1453.1 2292.4,1454.87 2294.32,1456.69 2296.24,1458.54 2298.16,1460.43 2300.08,1462.34 2302,1464.27 2303.92,1466.21 2305.84,1468.16 2307.76,1470.11 2309.68,1472.05 2311.59,1473.99 2313.51,1475.91 2315.43,1477.8 2317.35,1479.67 2319.27,1481.51 2321.19,1483.31 2323.11,1485.07 2325.03,1486.78 2326.95,1488.44 2328.87,1490.05 2330.79,1491.6 2332.71,1493.09 2334.62,1494.51 2336.54,1495.86 2338.46,1497.15 2340.38,1498.36 2342.3,1499.49 2344.22,1500.55 2346.14,1501.53 2348.06,1502.43 2349.98,1503.25 2351.9,1503.98 2353.82,1504.64 2355.73,1505.21 2357.65,1505.71 2359.57,1506.12 2361.49,1506.45 2363.41,1506.7 2365.33,1506.88 2367.25,1506.98 2369.17,1507 2371.09,1506.95 2373.01,1506.83 2374.93,1506.64 2376.84,1506.39 2378.76,1506.08 2380.68,1505.7 2382.6,1505.27 2384.52,1504.79 2386.44,1504.25 2388.36,1503.67 2390.28,1503.05 2392.2,1502.39 2394.12,1501.69 2396.04,1500.96 2397.95,1500.2 2399.87,1499.42 2401.79,1498.62 2403.71,1497.8" fill="none" stroke="#ff8000" stroke-width="5.6" stroke-linejoin="round"/>
<polyline points="1598.3,1507 1849.95,1507 2001.2,888" fill="none" stroke="#0000ff" stroke-width="6.4" stroke-dasharray="14.6 12.5" stroke-linejoin="round"/>
<polyline points="2001.2,888 2153.2,1507 2405,1507" fill="none" stroke="#0000ff" stroke-width="6.4" stroke-dasharray="14.6 12.6" stroke-dashoffset="14.1" stroke-linejoin="round"/>
</g>
<g font-size="55.7">
<text x="1587" y="1524" text-anchor="end">0.0</text>
<text x="1587" y="1400.2" text-anchor="end">0.2</text>
<text x="1587" y="1276.4" text-anchor="end">0.4</text>
<text x="1587" y="1152.6" text-anchor="end">0.6</text>
<text x="1587" y="1028.8" text-anchor="end">0.8</text>
<text x="1587" y="905" text-anchor="end">1.0</text>
<text x="1620.5" y="1576.4" text-anchor="middle">-200</text>
<text x="1810.6" y="1576.4" text-anchor="middle">-100</text>
<text x="2000.7" y="1576.4" text-anchor="middle">0</text>
<text x="2190.8" y="1576.4" text-anchor="middle">100</text>
<text x="2380.9" y="1576.4" text-anchor="middle">200</text>
</g>
<text x="1907" y="1638.7" font-size="72.6"><tspan font-style="italic">δ</tspan><tspan font-size="53" dy="19.5">F</tspan><tspan dy="-19.5"> (Hz)</tspan></text>
<text transform="translate(1487,1197) rotate(-90)" font-size="72.6" text-anchor="middle"><tspan font-style="italic">P</tspan><tspan font-size="53" dy="19.5">e</tspan></text>
<line x1="2102.6" y1="911.4" x2="2216.4" y2="911.4" stroke="#ff8000" stroke-width="6.6"/>
<line x1="2102.6" y1="970.6" x2="2216.4" y2="970.6" stroke="#0000ff" stroke-width="6.6" stroke-dasharray="14.6 12.6"/>
<text x="2225" y="928.3" font-size="48.8">Rabi</text>
<text x="2224.5" y="988" font-size="49.2">Triangle</text>
</g>
</svg></body></html>
